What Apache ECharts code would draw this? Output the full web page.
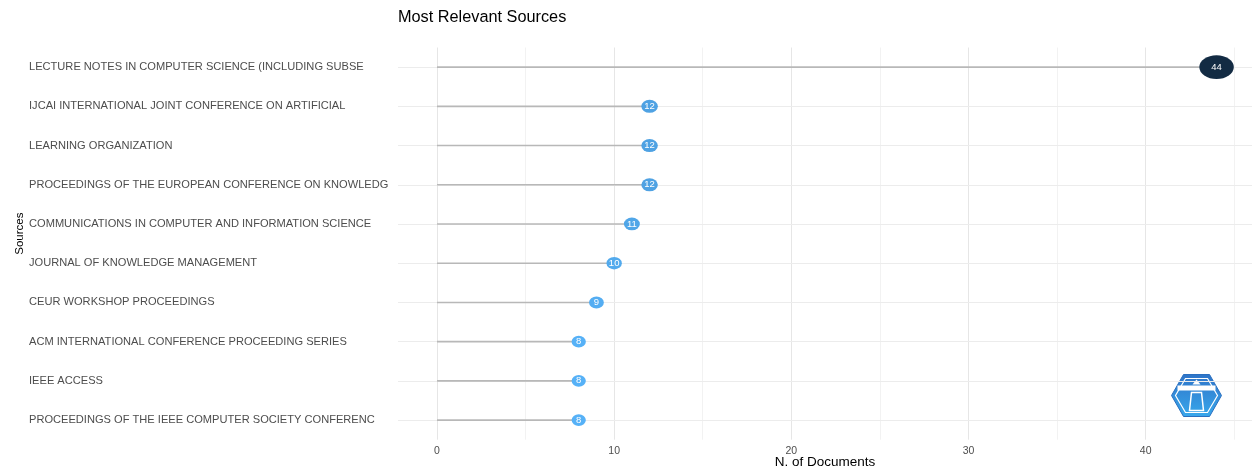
<!DOCTYPE html>
<html>
<head>
<meta charset="utf-8">
<script src="https://cdn.jsdelivr.net/npm/echarts@6/dist/echarts.min.js"></script>
<style>
html,body{margin:0;padding:0;background:#fff;}
#chart{width:1252px;height:467px;}
</style>
</head>
<body>
<div id="chart"></div>
<script>
const sources = [
  "LECTURE NOTES IN COMPUTER SCIENCE (INCLUDING SUBSE",
  "IJCAI INTERNATIONAL JOINT CONFERENCE ON ARTIFICIAL",
  "LEARNING ORGANIZATION",
  "PROCEEDINGS OF THE EUROPEAN CONFERENCE ON KNOWLEDG",
  "COMMUNICATIONS IN COMPUTER AND INFORMATION SCIENCE",
  "JOURNAL OF KNOWLEDGE MANAGEMENT",
  "CEUR WORKSHOP PROCEEDINGS",
  "ACM INTERNATIONAL CONFERENCE PROCEEDING SERIES",
  "IEEE ACCESS",
  "PROCEEDINGS OF THE IEEE COMPUTER SOCIETY CONFERENC"
];
const documents = [44, 12, 12, 12, 11, 10, 9, 8, 8, 8];
const xTickLabels = [0, 10, 20, 30, 40];
const xGridValues = [0, 5, 10, 15, 20, 25, 30, 35, 40, 45];

const chart = echarts.init(document.getElementById('chart'), null, {renderer: 'canvas'});
const font = "'Liberation Sans', Arial, sans-serif";

function bubbleSize(v) {
  return [9.75 + 0.5625 * v, 9 + 0.34 * v];
}

const option = {
  backgroundColor: '#ffffff',
  animation: false,
  textStyle: {fontFamily: font},
  title: {
    text: 'Most Relevant Sources',
    left: 393, top: 5,
    textStyle: {fontSize: 16.3, fontWeight: 'normal', color: '#000', fontFamily: font}
  },
  grid: {left: 398, right: 0, top: 47.5, height: 392.2, containLabel: false, outerBoundsMode: 'none'},
  xAxis: {
    type: 'value',
    min: -2.2, max: 46,
    name: 'N. of Documents',
    nameLocation: 'middle',
    nameGap: 16,
    nameMoveOverlap: false,
    nameTextStyle: {fontSize: 13.5, color: '#000', fontFamily: font},
    axisLine: {show: false},
    axisTick: {show: false, customValues: xGridValues},
    axisLabel: {customValues: xTickLabels, fontSize: 10.5, color: '#4d4d4d', margin: 6, fontFamily: font},
    splitLine: {show: true, lineStyle: {color: ['#e6e6e6', '#f2f2f2'], width: 1}}
  },
  yAxis: {
    type: 'category',
    data: sources,
    inverse: true,
    name: 'Sources',
    nameLocation: 'middle',
    nameRotate: 90,
    nameGap: 372,
    nameMoveOverlap: false,
    nameTextStyle: {fontSize: 11.5, color: '#000', fontFamily: font, padding: [0, 0, 0, 20]},
    axisLine: {show: false},
    axisTick: {show: false},
    splitLine: {show: false},
    axisLabel: {align: 'left', margin: 369, fontSize: 11.1, color: '#4d4d4d', fontFamily: font}
  },
  visualMap: {
    show: false,
    type: 'continuous',
    seriesIndex: 1,
    dimension: 0,
    min: 8, max: 44,
    inRange: {color: ['#56B1F7', '#132B43']}
  },
  series: [
    {
      type: 'bar',
      data: documents,
      barWidth: 1.6,
      itemStyle: {color: '#b8b8b8'},
      z: 2,
      silent: true,
      markLine: {
        silent: true,
        symbol: 'none',
        label: {show: false},
        lineStyle: {color: '#ececec', width: 1, type: 'solid'},
        data: sources.map(s => ({yAxis: s})),
        z: 1
      }
    },
    {
      type: 'scatter',
      data: documents.map((v, i) => [v, sources[i]]),
      symbol: 'circle',
      symbolSize: (val) => bubbleSize(val[0]),
      itemStyle: {opacity: 1},
      z: 5,
      label: {
        show: true,
        position: 'inside',
        formatter: (p) => p.value[0],
        color: '#fff',
        fontSize: 9.5,
        fontFamily: font
      }
    }
  ],
  graphic: [
    {
      type: 'group',
      left: 1171, top: 374,
      children: [
        {
          type: 'polygon',
          shape: {points: [[12,0],[38,0],[50,21],[38,42],[12,42],[0,21]]},
          style: {
            fill: new echarts.graphic.LinearGradient(0, 0, 0, 1, [
              {offset: 0, color: '#2f74c8'}, {offset: 1, color: '#38a8ec'}
            ]),
            stroke: '#2a6fc0', lineWidth: 1
          }
        },
        {
          type: 'polygon',
          shape: {points: [[14,4],[36,4],[46,21],[36,38],[14,38],[4,21]]},
          style: {fill: 'none', stroke: '#ffffff', lineWidth: 1.2}
        },
        {
          type: 'rect',
          shape: {x: 6, y: 11, width: 38, height: 5},
          style: {fill: '#ffffff'}
        },
        {
          type: 'polygon',
          shape: {points: [[20,18],[30,18],[32,36],[18,36]]},
          style: {fill: 'none', stroke: '#ffffff', lineWidth: 1.5}
        },
        {
          type: 'polygon',
          shape: {points: [[21,10],[25,5],[29,10]]},
          style: {fill: '#ffffff'}
        }
      ]
    }
  ]
};
chart.setOption(option);
</script>
</body>
</html>
